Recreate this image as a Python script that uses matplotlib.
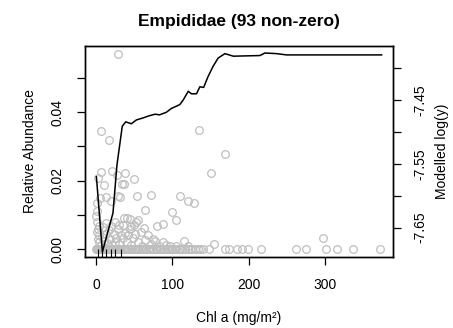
import matplotlib
matplotlib.use("Agg")
import matplotlib.pyplot as plt
import matplotlib.transforms as mtransforms

plt.rcParams['font.family'] = ['Liberation Sans', 'DejaVu Sans']

# non-zero observations (Chl a, relative abundance)
nz_x = [29, 5.7, 16.5, 135, 169, 151, 2.6, 6.5, 20, 27, 38, 49, 9.6, 34, 36,
        5.3, 12.2, 18.8, 28.5, 31.6, 53.4, 72.3, 110, 120.6, 128.5, 64.4, 100,
        105.3, 80, 87.6, 0, 36, 40.8, 54.8, 35, 46, 49, 19, 3, 1, 38, 42, 47.5,
        35, 26, 64.5, 77, 87, 115, 155, 298, 0.5, 2, 4, 1.5, 3.5, 6, 8, 10, 12,
        14, 16, 18, 21, 23, 25, 28, 30, 32, 40, 44, 46, 51, 55, 58, 60, 68, 72,
        75, 82, 92, 97, 8.5, 13, 0.2, 1, 24, 30, 105, 120, 62, 52, 44.5]
nz_y = [0.0571, 0.0346, 0.0318, 0.0347, 0.0277, 0.0221, 0.0208, 0.0225, 0.0229,
        0.0216, 0.0222, 0.0205, 0.0188, 0.0191, 0.0189, 0.0149, 0.0152, 0.0140,
        0.0156, 0.0151, 0.0155, 0.0157, 0.0155, 0.0141, 0.0135, 0.0113, 0.0109,
        0.0085, 0.0068, 0.0073, 0.0097, 0.0092, 0.0092, 0.0085, 0.0072, 0.0068,
        0.0071, 0.0067, 0.0068, 0.0050, 0.0048, 0.0040, 0.0033, 0.0033, 0.0033,
        0.0027, 0.0023, 0.0022, 0.0024, 0.0014, 0.0032, 0.0080, 0.0060, 0.0042,
        0.0030, 0.0020, 0.0012, 0.0035, 0.0025, 0.0045, 0.0018, 0.0055, 0.0030,
        0.0012, 0.0045, 0.0020, 0.0058, 0.0015, 0.0040, 0.0022, 0.0058, 0.0012,
        0.0045, 0.0020, 0.0050, 0.0010, 0.0040, 0.0015, 0.0030, 0.0010, 0.0012,
        0.0008, 0.0065, 0.0075, 0.0110, 0.0135, 0.0080, 0.0070, 0.0010, 0.0008,
        0.0062, 0.0078, 0.0088]

# zero observations, Chl a only
zero_x = [0, 0.5, 1, 1.5, 2, 3, 4, 5, 6, 7, 8, 9, 10, 11, 12, 13, 14, 15, 16,
          17, 18, 19, 20, 21, 22, 23, 24, 25, 26, 27, 28, 29, 30, 31, 32, 33,
          35, 37, 39, 41, 43, 45, 47, 49, 51, 53, 55, 57, 60, 62, 65, 68, 70,
          72, 75, 78, 80, 83, 85, 88, 90, 93, 95, 98, 100, 103, 105, 108, 110,
          113, 116, 120, 123, 126, 129, 133, 136, 140, 148, 169, 175, 185, 191,
          199, 217, 262, 276, 302, 316, 337, 373]

# modelled response (right axis)
fit_x = [0, 7.9, 21.8, 27, 34, 38.5, 46, 52.6, 61, 68, 77, 83, 92, 98.6, 109.6,
         114, 120.8, 125, 131.6, 136, 141, 146.8, 153.4, 160, 169, 180, 215,
         221.5, 237, 250, 375]
fit_y = [-7.570, -7.688, -7.627, -7.552, -7.491, -7.484, -7.487, -7.481, -7.478,
         -7.475, -7.472, -7.473, -7.469, -7.463, -7.457, -7.450, -7.436, -7.440,
         -7.440, -7.429, -7.430, -7.413, -7.397, -7.384, -7.377, -7.381, -7.380,
         -7.376, -7.377, -7.379, -7.379]

# decile rug
rug_x = [2, 8, 13, 19, 24, 32]

fig = plt.figure(figsize=(4.53, 3.28), dpi=100)
ax = fig.add_axes([0.1876, 0.2165, 0.68, 0.6433])

grey = '#BEBEBE'
ax.plot(zero_x, [0] * len(zero_x), 'o', ms=5.5, mfc='none', mec=grey, mew=0.9)
ax.plot(nz_x, nz_y, 'o', ms=5.5, mfc='none', mec=grey, mew=0.9)
ax.set_xlim(-15, 390)
ax.set_ylim(-0.00228, 0.0593)
ax.vlines(rug_x, -0.00228, 0.0, color='black', lw=0.8)

ax.set_xticks([0, 100, 200, 300])
ax.set_yticks([0, 0.01, 0.02, 0.03, 0.04, 0.05])
ax.set_yticklabels(['0.00', '', '0.02', '', '0.04', ''])
ax.tick_params(axis='both', direction='out', length=6, width=0.9, labelsize=10)
ax.tick_params(axis='x', pad=9)
ax.tick_params(axis='y', pad=9)
plt.setp(ax.get_yticklabels(), rotation=90, va='center')

ax2 = ax.twinx()
ax2.plot(fit_x, fit_y, color='black', lw=1.1)
ax2.set_ylim(-7.696, -7.365)
ticks2 = [-7.40, -7.45, -7.50, -7.55, -7.60, -7.65]
ax2.set_yticks(ticks2)
ax2.set_yticklabels(['', '-7.45', '', '-7.55', '', '-7.65'])
ax2.tick_params(axis='y', direction='out', length=6, width=0.9, labelsize=10, pad=9)
plt.setp(ax2.get_yticklabels(), rotation=90, va='center')

for a in (ax, ax2):
    for s in a.spines.values():
        s.set_linewidth(1.0)

fig.text(0.5276, 0.933, 'Empididae (93 non-zero)', ha='center', va='center',
         fontsize=12.5, fontweight='bold')
fig.text(0.066, 0.538, 'Relative Abundance', rotation=90, ha='center',
         va='center', fontsize=10)
fig.text(0.9757, 0.538, 'Modelled log(y)', rotation=90, ha='center',
         va='center', fontsize=10)
fig.text(0.5276, 0.032, 'Chl a (mg/m²)', ha='center', va='center', fontsize=10)

fig.savefig('out.png', dpi=100)
